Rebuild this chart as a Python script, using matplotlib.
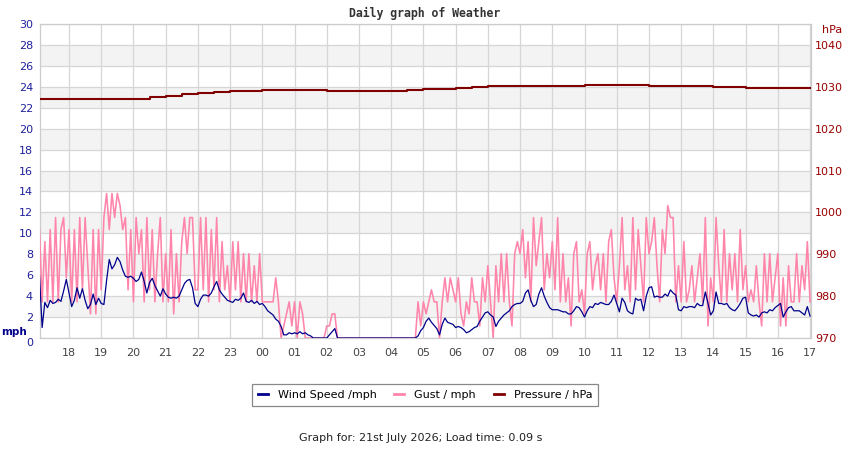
import numpy as np
import matplotlib
matplotlib.use("Agg")
import matplotlib.pyplot as plt
from matplotlib.lines import Line2D

# 5-minute samples, first one at 17:05, last one at 17:00 next day
start_hour = 17 + 5 / 60.0
step_min = 5

# wind speed, mph (one row per hour)
wind = [
    6.0, 1.0, 3.4, 2.9, 3.6, 3.3, 3.4, 3.7, 3.5, 4.5, 5.6,            # 17
    4.3, 3.0, 3.6, 4.8, 3.8, 4.7, 3.6, 2.8, 3.2, 4.2, 3.2, 3.8,       # 18
    3.3, 3.2, 5.5, 7.5, 6.6, 7.0, 7.7, 7.3, 6.5, 5.9, 5.8, 5.9,       # 19
    5.7, 5.4, 5.6, 6.3, 5.4, 4.3, 5.3, 5.7, 5.0, 4.5, 4.0, 4.7,       # 20
    4.2, 3.9, 3.8, 3.9, 3.8, 4.0, 4.6, 5.2, 5.5, 5.6, 4.8, 3.3,       # 21
    3.0, 3.7, 4.1, 4.1, 4.0, 4.3, 4.9, 5.4, 4.6, 4.2, 3.9, 3.6,       # 22
    3.5, 3.4, 3.7, 3.6, 3.8, 4.3, 3.5, 3.4, 3.6, 3.3, 3.5, 3.2,       # 23
    3.3, 3.0, 2.6, 2.4, 2.2, 1.8, 1.6, 1.1, 0.3, 0.3, 0.5, 0.4,       # 00
    0.5, 0.4, 0.6, 0.4, 0.5, 0.3, 0.2, 0.0, 0.0, 0.0, 0.0, 0.0,       # 01
    0.0, 0.3, 0.6, 0.9, 0.0, 0.0, 0.0, 0.0, 0.0, 0.0, 0.0, 0.0,       # 02
    0.0, 0.0, 0.0, 0.0, 0.0, 0.0, 0.0, 0.0, 0.0, 0.0, 0.0, 0.0,       # 03
    0.0, 0.0, 0.0, 0.0, 0.0, 0.0, 0.0, 0.0, 0.0, 0.0, 0.2, 0.7,       # 04
    1.0, 1.6, 1.9, 1.5, 1.2, 0.9, 0.3, 1.3, 1.9, 1.5, 1.4, 1.3,       # 05
    1.0, 1.1, 1.0, 0.8, 0.5, 0.6, 0.8, 1.0, 1.1, 1.6, 2.0, 2.4,       # 06
    2.5, 2.2, 2.0, 1.1, 1.6, 1.9, 2.2, 2.4, 2.6, 3.0, 3.2, 3.3,       # 07
    3.3, 3.5, 4.3, 4.6, 3.6, 3.0, 3.2, 4.2, 4.8, 4.0, 3.4, 2.9,       # 08
    2.7, 2.7, 2.7, 2.6, 2.5, 2.5, 2.3, 2.3, 2.6, 3.0, 2.9, 2.5,       # 09
    2.0, 2.6, 3.0, 2.9, 3.3, 3.2, 3.4, 3.3, 3.2, 3.2, 3.5, 4.1,       # 10
    3.3, 2.5, 3.8, 3.4, 2.6, 2.4, 2.3, 3.8, 3.6, 3.7, 2.6, 4.0,       # 11
    4.8, 4.9, 3.9, 4.0, 3.9, 3.9, 4.2, 4.0, 4.6, 4.3, 4.1, 2.7,       # 12
    2.6, 3.0, 2.9, 3.0, 3.0, 2.9, 3.3, 3.1, 3.1, 4.4, 3.3, 2.2,       # 13
    2.6, 4.4, 3.3, 3.3, 3.2, 3.3, 2.9, 2.7, 2.6, 2.9, 3.3, 3.8,       # 14
    3.9, 2.4, 2.2, 2.1, 2.2, 2.0, 2.4, 2.5, 2.4, 2.7, 2.6, 2.9,       # 15
    3.1, 3.3, 2.0, 2.5, 2.9, 3.0, 2.6, 2.6, 2.6, 2.4, 2.2, 3.0,       # 16
    2.1,                                                              # 17
]

# gust, in whole knots as logged by the station
gust_kt = [
    9, 3, 8, 3, 9, 3, 10, 3, 9, 10, 5,          # 17
    9, 3, 9, 3, 10, 4, 10, 6, 2, 9, 2, 9,       # 18
    4, 10, 12, 9, 12, 10, 12, 11, 9, 10, 4, 9,  # 19
    3, 10, 7, 9, 3, 10, 4, 9, 3, 7, 10, 3,      # 20
    7, 3, 9, 2, 7, 3, 8, 10, 7, 10, 10, 4,      # 21
    4, 10, 4, 10, 3, 9, 4, 10, 3, 8, 4, 6,      # 22
    3, 8, 4, 8, 3, 7, 3, 7, 3, 6, 3, 7,         # 23
    3, 3, 3, 3, 3, 5, 3, 0, 1, 2, 3, 1,         # 00
    3, 0, 3, 2, 0, 0, 0, 0, 0, 0, 0, 0,         # 01
    1, 1, 2, 2, 0, 0, 0, 0, 0, 0, 0, 0,         # 02
    0, 0, 0, 0, 0, 0, 0, 0, 0, 0, 0, 0,         # 03
    0, 0, 0, 0, 0, 0, 0, 0, 0, 0, 3, 1,         # 04
    3, 2, 3, 4, 3, 3, 0, 3, 5, 3, 5, 4,         # 05
    3, 5, 2, 1, 3, 2, 5, 3, 3, 1, 5, 3,         # 06
    6, 3, 0, 6, 3, 7, 3, 7, 3, 1, 7, 8,         # 07
    7, 9, 5, 8, 3, 10, 6, 8, 10, 4, 7, 5,       # 08
    8, 4, 10, 3, 7, 3, 5, 1, 7, 8, 3, 4,        # 09
    2, 7, 8, 4, 6, 7, 4, 7, 3, 8, 9, 5,         # 10
    3, 6, 10, 4, 6, 3, 10, 4, 9, 6, 3, 10,      # 11
    7, 8, 10, 6, 3, 9, 7, 11, 10, 10, 3, 6,     # 12
    3, 8, 3, 4, 6, 3, 5, 7, 3, 10, 1, 5,        # 13
    3, 10, 6, 3, 9, 3, 7, 4, 7, 3, 9, 4,        # 14
    6, 3, 4, 3, 6, 3, 1, 7, 3, 7, 3, 5,         # 15
    7, 1, 5, 1, 6, 3, 3, 7, 3, 6, 4, 8,         # 16
    3,                                          # 17
]
KT_TO_MPH = 1.15078

# pressure, hPa (logged on change, roughly every half hour)
p_hour = [17.05, 18, 19, 20, 20.5, 21, 21.5, 22, 22.5, 23, 23.5, 24, 25, 26, 27, 28,
          28.5, 29, 29.5, 30, 30.5, 31, 31.5, 32, 33, 34, 35, 36, 36.5, 37, 38, 38.75, 39, 40, 41]
pressure = [1027.2, 1027.0, 1027.0, 1027.2, 1027.5, 1027.8, 1028.2, 1028.4, 1028.7, 1029.0,
            1029.1, 1029.2, 1029.2, 1029.05, 1029.0, 1029.0, 1029.2, 1029.4, 1029.5, 1029.8,
            1029.9, 1030.1, 1030.2, 1030.3, 1030.3, 1030.4, 1030.35, 1030.3, 1030.1, 1030.1,
            1030.0, 1030.0, 1029.7, 1029.7, 1029.7]

hour_ticks = list(range(18, 42))
hour_labels = ["%02d" % (h % 24) for h in hour_ticks]

t = start_hour + np.arange(len(wind)) * step_min / 60.0
gust = np.array(gust_kt) * KT_TO_MPH

c_wind = "#00008b"
c_gust = "#ff85aa"
c_pres = "#800000"
c_left = "#20209a"
c_right = "#990000"
c_grid = "#d6d6d6"

fig = plt.figure(figsize=(8.5, 4.5), dpi=100)
ax = fig.add_axes([40 / 850, 112 / 450, 771 / 850, 314 / 450])

ax.set_xlim(17.1, 41.03)
ax.set_ylim(0, 30)
for lo in range(2, 30, 4):
    ax.axhspan(lo, lo + 2, color="#f3f3f3", zorder=0, lw=0)

ax.set_yticks(range(0, 31, 2))
ax.set_xticks(hour_ticks)
ax.set_xticklabels(hour_labels)
ax.grid(True, color=c_grid, lw=0.9, zorder=1)
ax.set_axisbelow(True)
ax.tick_params(axis="x", length=0, pad=7, labelsize=8, labelcolor="#444444")
ax.tick_params(axis="y", length=0, pad=5, labelsize=8, labelcolor=c_left)
for s in ax.spines.values():
    s.set_color("#cccccc")
    s.set_linewidth(0.9)

ax.plot(t, gust, color=c_gust, lw=1.15, zorder=3)
ax.plot(t, wind, color=c_wind, lw=0.9, zorder=4)

ax2 = ax.twinx()
ax2.set_ylim(970, 1045)
ax2.set_yticks(range(970, 1041, 10))
ax2.tick_params(axis="y", length=0, pad=3, labelsize=8, labelcolor=c_right)
for s in ax2.spines.values():
    s.set_visible(False)
ax2.plot(p_hour, pressure, color=c_pres, lw=1.5, drawstyle="steps-post", zorder=5)

fig.text(1 / 850, 1 - 332 / 450, "mph", color="#00008b", fontsize=7.5, fontweight="bold",
         va="center", ha="left")
fig.text(822 / 850, 1 - 30 / 450, "hPa", color=c_right, fontsize=8, va="center", ha="left")
fig.text(425 / 850, 1 - 13 / 450, "Daily graph of Weather", family="DejaVu Sans Mono",
         fontweight="bold", fontsize=8.3, color="#333333", ha="center", va="center")

handles = [Line2D([], [], color=c_wind, lw=2),
           Line2D([], [], color=c_gust, lw=2),
           Line2D([], [], color=c_pres, lw=2)]
leg = fig.legend(handles, ["Wind Speed /mph", "Gust / mph", "Pressure / hPa"],
                 loc="center", bbox_to_anchor=(425 / 850, 1 - 395 / 450), ncol=3,
                 fontsize=8, handlelength=0.9, handletextpad=0.9, columnspacing=1.6,
                 fancybox=False, edgecolor="#888888", framealpha=1, borderpad=0.55)
leg.get_frame().set_linewidth(0.9)

fig.text(421 / 850, 1 - 438 / 450, "Graph for: 21st July 2026; Load time: 0.09 s",
         fontsize=8, color="#222222", ha="center", va="center")

# the zero label sits just under the axis line, clear of "mph"
fig.canvas.draw()
ax.get_yticklabels()[0].set_va("top")

fig.savefig("out.png", dpi=100)
